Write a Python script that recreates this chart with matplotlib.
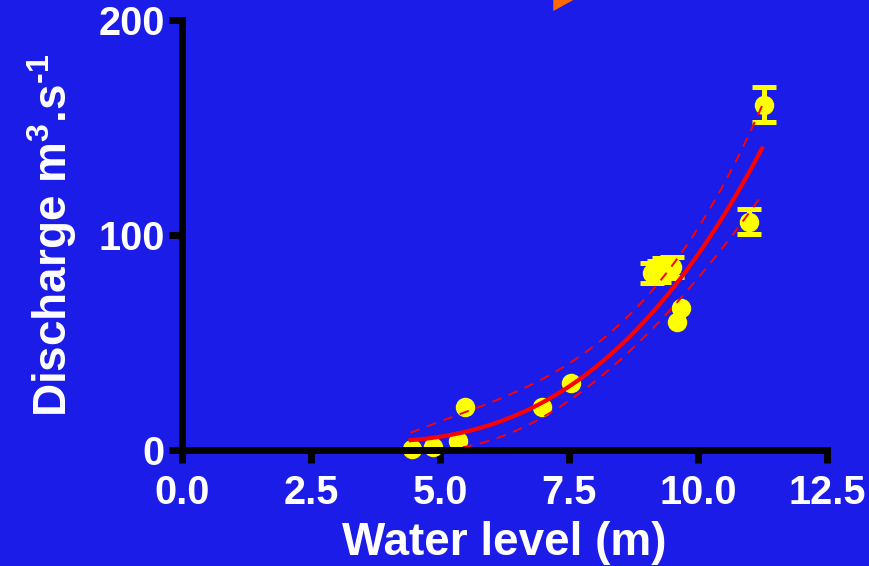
import numpy as np
import matplotlib.pyplot as plt
from matplotlib.patches import Polygon

plt.rcParams['font.family'] = ['Liberation Sans', 'DejaVu Sans']
plt.rcParams['font.weight'] = 'bold'
plt.rcParams['mathtext.fontset'] = 'custom'
plt.rcParams['mathtext.rm'] = 'Liberation Sans:bold'
plt.rcParams['mathtext.bf'] = 'Liberation Sans:bold'
plt.rcParams['mathtext.it'] = 'Liberation Sans:bold'

# measured discharge vs water level (mean +/- error)
water_level = np.array([4.46, 4.86, 5.35, 5.48, 6.98, 7.53, 9.10, 9.25, 9.35, 9.50,
                        9.59, 9.67, 10.98, 11.27])
discharge = np.array([0.5, 1.5, 4.2, 20.2, 19.8, 31.0, 82.5, 83.0, 84.5, 85.0,
                      59.7, 66.0, 106.2, 160.5])
discharge_err = np.array([0, 0, 0, 0, 0, 0, 4.7, 4.7, 4.7, 4.7, 0, 0, 5.8, 8.1])

# rating curve and its confidence band
fit_level = [4.43, 5.53, 6.95, 7.53, 8.70, 9.41, 9.67, 10.45, 11.24]
fit_discharge = [4.65, 8.5, 22, 30, 53, 73, 79, 108, 140]
upper_level = [4.43, 5.53, 6.95, 8.12, 8.63, 9.15, 9.73, 10.45, 10.83, 11.24]
upper_discharge = [8.5, 17, 32.6, 51, 63, 76, 93, 119, 139.5, 161]
lower_level = [4.43, 5.14, 6.95, 8.12, 9.22, 10.51, 11.24]
lower_discharge = [-0.5, 1.8, 14, 34, 59, 96, 118]

x_ticks = [0.0, 2.5, 5.0, 7.5, 10.0, 12.5]
y_ticks = [0, 100, 200]

bg = '#1c1ce8'

fig = plt.figure(figsize=(8.7, 5.66), dpi=100, facecolor=bg)
ax = fig.add_axes([0.2092, 0.2049, 0.7414, 0.7598])
ax.set_facecolor(bg)

# points, with error bars only where there is one
ax.plot(water_level, discharge, 'o', color='#ffff00', ms=13, clip_on=False, zorder=2)
has_err = discharge_err > 0
ax.errorbar(water_level[has_err], discharge[has_err], yerr=discharge_err[has_err],
            fmt='none', ecolor='#ffff00', elinewidth=3.6, capsize=8.3, capthick=3.6,
            clip_on=False, zorder=2)

xs = np.linspace(fit_level[0], fit_level[-1], 200)
ax.plot(xs, np.polyval(np.polyfit(fit_level, fit_discharge, 3), xs),
        color='#ff0000', lw=3, zorder=3)
xs_up = np.linspace(upper_level[0], upper_level[-1], 200)
ax.plot(xs_up, np.polyval(np.polyfit(upper_level, upper_discharge, 3), xs_up),
        color='#ff0000', lw=1.4, ls=(0, (5, 4)), zorder=3)
xs_lo = np.linspace(lower_level[0], lower_level[-1], 200)
ax.plot(xs_lo, np.polyval(np.polyfit(lower_level, lower_discharge, 3), xs_lo),
        color='#ff0000', lw=1.4, ls=(0, (5, 4)), zorder=3)

ax.set_xlim(0, 12.5)
ax.set_ylim(0, 200)
ax.set_xticks(x_ticks)
ax.set_xticklabels(['%.1f' % v for v in x_ticks])
ax.set_yticks(y_ticks)

for side in ['top', 'right']:
    ax.spines[side].set_visible(False)
for side in ['left', 'bottom']:
    ax.spines[side].set_linewidth(5)
    ax.spines[side].set_color('black')
    ax.spines[side].set_zorder(5)

ax.tick_params(axis='both', length=9.5, width=5, color='black', labelcolor='white',
               labelsize=28.5)
ax.tick_params(axis='x', pad=8)
ax.tick_params(axis='y', pad=3)
for lab in ax.get_xticklabels() + ax.get_yticklabels():
    lab.set_fontweight('bold')

ax.set_xlabel('Water level (m)', color='white', fontsize=33, fontweight='bold')
ax.set_ylabel(r'Discharge m$^{3}$.s$^{\text{-}1}$', color='white', fontsize=33,
              fontweight='bold')
ax.xaxis.set_label_coords(0.5, -0.165)
ax.yaxis.set_label_coords(-0.16, 0.5)

# orange arrow tip poking in at the top edge
fig.patches.append(Polygon([(553.3 / 870, 1.0), (553.3 / 870, 1 - 11 / 566),
                            (573.3 / 870, 1.0)], closed=True,
                           transform=fig.transFigure, facecolor='#ff6a00',
                           edgecolor='none'))

fig.savefig('out.png', dpi=100, facecolor=bg)
